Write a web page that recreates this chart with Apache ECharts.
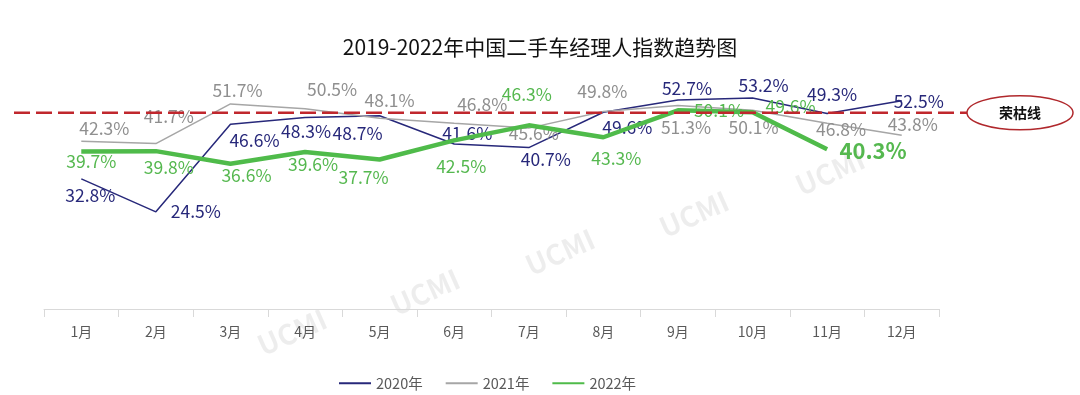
<!DOCTYPE html>
<html><head><meta charset="utf-8">
<script src="https://cdn.jsdelivr.net/npm/echarts@6/dist/echarts.min.js"></script>
<style>html,body{margin:0;padding:0;background:#fff}#c{width:1080px;height:395px}</style>
</head><body><div id="c"></div>
<script>
const months = ['1月','2月','3月','4月','5月','6月','7月','8月','9月','10月','11月','12月'];
const s2020 = [32.8, 24.5, 46.6, 48.3, 48.7, 41.6, 40.7, 49.6, 52.7, 53.2, 49.3, 52.5];
const s2021 = [42.3, 41.7, 51.7, 50.5, 48.1, 46.8, 45.6, 49.8, 51.3, 50.1, 46.8, 43.8];
const s2022 = [39.7, 39.8, 36.6, 39.6, 37.7, 42.5, 46.3, 43.3, 50.1, 49.6, 40.3];
const names = ['2020年','2021年','2022年'];
const threshold = 50;

// label offsets (styling only)
const off2020 = [[9,16],[40,0],[24,16],[1,14],[-22,18],[13,-11],[17,12],[24,15],[9,-12],[11,-13],[5,-19],[17,1]];
const off2021 = [[23,-13],[13,-27],[7,-14],[27,-19],[10,-18],[28,-19],[5,5],[-1,-20],[8,22],[1,17],[14,6],[11,-11]];
const off2022 = [[10,10],[13,16],[16,12],[8,12],[-16,18],[7,26],[-2,-31],[13,21],[41,0],[38,-6],[46,1]];

const FONT = '"Noto Sans CJK SC", "Noto Sans", sans-serif';
const C20 = '#27287a', C21 = '#a6a6a6', C22 = '#4fbb4a';

function mk(vals, offs, last) {
  return vals.map((v, i) => {
    const lab = {offset: offs[i]};
    if (last && i === vals.length - 1) { lab.fontSize = 22; lab.fontWeight = 'bold'; }
    return {value: v, label: lab};
  });
}

const chart = echarts.init(document.getElementById('c'));
function series(name, vals, offs, color, labelColor, width, z, last) {
  return {
    name, type: 'line', data: mk(vals, offs, last), z,
    symbol: 'circle', symbolSize: 0, showSymbol: true,
    lineStyle: {color, width}, itemStyle: {color},
    label: {show: true, position: 'inside', formatter: p => p.value.toFixed(1) + '%',
      color: labelColor, fontSize: 17.5, fontFamily: FONT, align: 'center', verticalAlign: 'middle'},
    emphasis: {disabled: true}
  };
}
chart.setOption({
  animation: false,
  title: {text: '2019-2022年中国二手车经理人指数趋势图', left: 'center', top: 32,
    textStyle: {fontFamily: FONT, fontSize: 21, fontWeight: 'normal', color: '#111'}},
  grid: {left: 44, right: 141, top: 71, bottom: 86},
  legend: {data: names, left: 333, top: 371, itemWidth: 32, itemHeight: 14, itemGap: 22,
    itemStyle: {opacity: 0},
    textStyle: {fontFamily: FONT, fontSize: 14.5, color: '#595959'}},
  xAxis: {type: 'category', data: months, boundaryGap: true,
    axisLine: {lineStyle: {color: '#d9d9d9'}},
    axisTick: {show: true, length: 8, interval: 0, lineStyle: {color: '#d9d9d9'}},
    axisLabel: {color: '#595959', fontSize: 14, fontFamily: FONT, margin: 16}},
  yAxis: {type: 'value', min: 0, max: 60, show: false, splitLine: {show: false}},
  series: [
    series(names[0], s2020, off2020, C20, '#27287a', 1.5, 2),
    series(names[1], s2021, off2021, C21, '#8f8f8f', 1.5, 3),
    series(names[2], s2022, off2022, C22, '#55b84f', 4.5, 4, true)
  ]
});

const y50 = chart.convertToPixel({yAxisIndex: 0}, threshold) + 2;
const wm = [[292,332],[425,292],[560,252],[694,214],[830,172]];
chart.setOption({graphic: [
  ...wm.map(p => ({type: 'text', x: p[0], y: p[1], rotation: 0.42, z: 0,
    style: {text: 'UCMI', fill: 'rgba(0,0,0,0.07)', font: 'bold 28px ' + FONT, align: 'center', verticalAlign: 'middle'}})),
  {type: 'line', z: 50, shape: {x1: 14, y1: y50, x2: 967, y2: y50},
    style: {stroke: '#c0272d', lineWidth: 2.5, lineDash: [16, 6]}},
  {type: 'ellipse', z: 50, shape: {cx: 1020, cy: y50, rx: 53, ry: 17},
    style: {stroke: '#b0282c', lineWidth: 1.5, fill: '#fff'}},
  {type: 'text', z: 51, x: 1020, y: y50,
    style: {text: '荣枯线', fill: '#111', font: 'bold 14px ' + FONT, align: 'center', verticalAlign: 'middle'}}
]});
</script></body></html>
